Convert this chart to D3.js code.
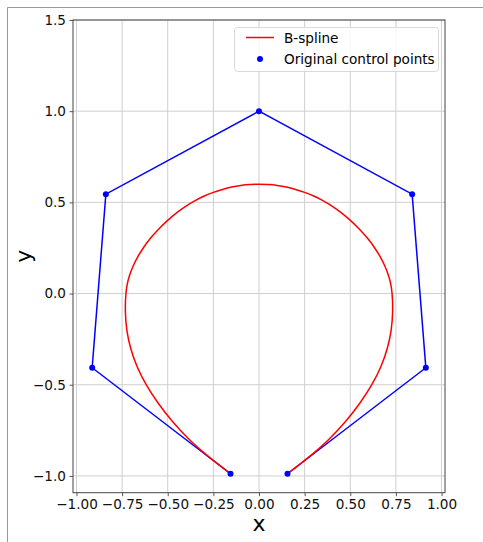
<!DOCTYPE html>
<html>
<head>
<meta charset="utf-8">
<script src="https://cdn.jsdelivr.net/npm/d3@7"></script>
<style>
  html, body { margin: 0; padding: 0; background: #fff; }
  svg { display: block; font-family: "DejaVu Sans", sans-serif; }
</style>
</head>
<body>
<svg id="chart" width="483" height="542"></svg>
<script>
// Control polygon of the spline
const ctrlX = [-0.156, -0.914, -0.839, 0.0, 0.839, 0.914, 0.156];
const ctrlY = [-0.988, -0.407, 0.545, 1.0, 0.545, -0.407, -0.988];

// Points along the resulting B-spline curve (left end → top → right end)
const splineX = [-0.156, -0.269, -0.382, -0.475, -0.553, -0.618, -0.668, -0.703, -0.724, -0.732, -0.729,
                 -0.722, -0.709, -0.690, -0.665, -0.634, -0.597, -0.553, -0.502, -0.450, -0.400, -0.350,
                 -0.300, -0.250, -0.200, -0.150, -0.100, -0.050, 0.0,
                 0.050, 0.100, 0.150, 0.200, 0.250, 0.300, 0.350, 0.400, 0.450, 0.502, 0.553, 0.597,
                 0.634, 0.665, 0.690, 0.709, 0.722, 0.729, 0.732, 0.724, 0.703, 0.668, 0.618, 0.553,
                 0.475, 0.382, 0.269, 0.156];
const splineY = [-0.988, -0.900, -0.800, -0.700, -0.600, -0.500, -0.400, -0.300, -0.200, -0.100, 0.000,
                 0.050, 0.100, 0.150, 0.200, 0.250, 0.300, 0.350, 0.400, 0.444, 0.480, 0.510,
                 0.535, 0.555, 0.571, 0.584, 0.593, 0.598, 0.599,
                 0.598, 0.593, 0.584, 0.571, 0.555, 0.535, 0.510, 0.480, 0.444, 0.400, 0.350, 0.300,
                 0.250, 0.200, 0.150, 0.100, 0.050, 0.000, -0.100, -0.200, -0.300, -0.400, -0.500, -0.600,
                 -0.700, -0.800, -0.900, -0.988];

// Axis ticks
const xTicks = [-1.0, -0.75, -0.5, -0.25, 0.0, 0.25, 0.5, 0.75, 1.0];
const yTicks = [-1.0, -0.5, 0.0, 0.5, 1.0, 1.5];

const legendLabels = ["B-spline", "Original control points"];

const svg = d3.select("#chart");
const plotL = 73, plotR = 445, plotT = 20, plotB = 492.7;
const fontPx = "13.6px";

const x = d3.scaleLinear().domain([-1.019, 1.019]).range([plotL, plotR]);
const y = d3.scaleLinear().domain([-1.092, 1.5]).range([plotB, plotT]);

// Figure border lines
svg.append("line").attr("x1", 7.5).attr("x2", 483).attr("y1", 7.5).attr("y2", 7.5)
  .attr("stroke", "#9a9a9a").attr("stroke-width", 1);
svg.append("line").attr("x1", 7.5).attr("x2", 7.5).attr("y1", 7.5).attr("y2", 542)
  .attr("stroke", "#9a9a9a").attr("stroke-width", 1);

// Grid
const grid = svg.append("g");
grid.selectAll(".gx").data(xTicks).join("line")
  .attr("x1", d => x(d)).attr("x2", d => x(d))
  .attr("y1", plotT).attr("y2", plotB)
  .attr("stroke", "#cfcfcf").attr("stroke-width", 1);
grid.selectAll(".gy").data(yTicks).join("line")
  .attr("x1", plotL).attr("x2", plotR)
  .attr("y1", d => y(d)).attr("y2", d => y(d))
  .attr("stroke", "#cfcfcf").attr("stroke-width", 1);

// Axes
const xAxis = d3.axisBottom(x).tickValues(xTicks).tickFormat(d3.format(".2f"))
  .tickSize(3.5).tickPadding(3.5);
const yAxis = d3.axisLeft(y).tickValues(yTicks).tickFormat(d3.format(".1f"))
  .tickSize(3.5).tickPadding(3.5);

const gx = svg.append("g").attr("transform", `translate(0,${plotB})`).call(xAxis);
const gy = svg.append("g").attr("transform", `translate(${plotL},0)`).call(yAxis);
[gx, gy].forEach(g => {
  g.select(".domain").remove();
  g.selectAll(".tick line").attr("stroke", "#444").attr("stroke-width", 0.9);
  g.selectAll(".tick text").attr("fill", "#111").style("font-size", fontPx)
    .style("font-family", "DejaVu Sans, sans-serif");
});

// Frame
svg.append("rect")
  .attr("x", plotL).attr("y", plotT)
  .attr("width", plotR - plotL).attr("height", plotB - plotT)
  .attr("fill", "none").attr("stroke", "#444").attr("stroke-width", 1);

const ctrl = ctrlX.map((v, i) => [v, ctrlY[i]]);
const spline = splineX.map((v, i) => [v, splineY[i]]);

// Control polygon
svg.append("path")
  .datum(ctrl)
  .attr("d", d3.line().x(d => x(d[0])).y(d => y(d[1])))
  .attr("fill", "none").attr("stroke", "#0000ff").attr("stroke-width", 1.5);

// Spline curve
svg.append("path")
  .datum(spline)
  .attr("d", d3.line().x(d => x(d[0])).y(d => y(d[1])).curve(d3.curveCatmullRom.alpha(0.5)))
  .attr("fill", "none").attr("stroke", "#ff0000").attr("stroke-width", 1.5);

// Control points
svg.selectAll(".cp").data(ctrl).join("circle")
  .attr("cx", d => x(d[0])).attr("cy", d => y(d[1])).attr("r", 3)
  .attr("fill", "#0000ff");

// Axis titles
svg.append("text").attr("x", (plotL + plotR) / 2).attr("y", 531)
  .attr("text-anchor", "middle").style("font-size", "22px").attr("fill", "#000").text("x");
svg.append("text")
  .attr("transform", `translate(31,${(plotT + plotB) / 2}) rotate(-90)`)
  .attr("text-anchor", "middle").style("font-size", "22px").attr("fill", "#000").text("y");

// Legend
const lg = svg.append("g");
lg.append("rect").attr("x", 234.5).attr("y", 27.5).attr("width", 204).attr("height", 44)
  .attr("rx", 3).attr("fill", "#fff").attr("fill-opacity", 0.8)
  .attr("stroke", "#d9d9d9").attr("stroke-width", 1);
lg.append("line").attr("x1", 246).attr("x2", 274).attr("y1", 37.5).attr("y2", 37.5)
  .attr("stroke", "#ff0000").attr("stroke-width", 1.5);
lg.append("circle").attr("cx", 260).attr("cy", 59).attr("r", 3).attr("fill", "#0000ff");
lg.selectAll(".lt").data(legendLabels).join("text")
  .attr("x", 284).attr("y", (d, i) => 42.5 + i * 21)
  .style("font-size", fontPx).attr("fill", "#000").text(d => d);
</script>
</body>
</html>
